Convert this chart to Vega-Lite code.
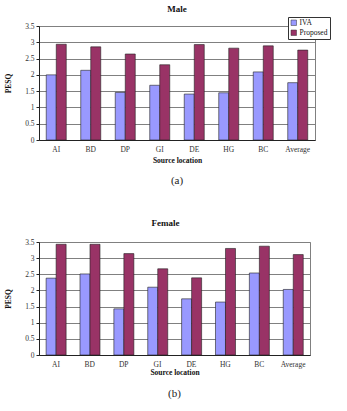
{
  "$schema": "https://vega.github.io/schema/vega-lite/v6.json",
  "background": "white",
  "padding": {"left": 4, "top": 4, "right": 0, "bottom": 0},
  "datasets": {
    "male": [
      {"location": "AI", "method": "IVA", "pesq": 2.0},
      {"location": "AI", "method": "Proposed", "pesq": 2.94},
      {"location": "BD", "method": "IVA", "pesq": 2.14},
      {"location": "BD", "method": "Proposed", "pesq": 2.86},
      {"location": "DP", "method": "IVA", "pesq": 1.46},
      {"location": "DP", "method": "Proposed", "pesq": 2.64},
      {"location": "GI", "method": "IVA", "pesq": 1.68},
      {"location": "GI", "method": "Proposed", "pesq": 2.31},
      {"location": "DE", "method": "IVA", "pesq": 1.41},
      {"location": "DE", "method": "Proposed", "pesq": 2.93},
      {"location": "HG", "method": "IVA", "pesq": 1.45},
      {"location": "HG", "method": "Proposed", "pesq": 2.82},
      {"location": "BC", "method": "IVA", "pesq": 2.09},
      {"location": "BC", "method": "Proposed", "pesq": 2.89},
      {"location": "Average", "method": "IVA", "pesq": 1.76},
      {"location": "Average", "method": "Proposed", "pesq": 2.76}
    ],
    "female": [
      {"location": "AI", "method": "IVA", "pesq": 2.38},
      {"location": "AI", "method": "Proposed", "pesq": 3.43},
      {"location": "BD", "method": "IVA", "pesq": 2.51},
      {"location": "BD", "method": "Proposed", "pesq": 3.43},
      {"location": "DP", "method": "IVA", "pesq": 1.43},
      {"location": "DP", "method": "Proposed", "pesq": 3.14},
      {"location": "GI", "method": "IVA", "pesq": 2.1},
      {"location": "GI", "method": "Proposed", "pesq": 2.67},
      {"location": "DE", "method": "IVA", "pesq": 1.74},
      {"location": "DE", "method": "Proposed", "pesq": 2.39},
      {"location": "HG", "method": "IVA", "pesq": 1.64},
      {"location": "HG", "method": "Proposed", "pesq": 3.3},
      {"location": "BC", "method": "IVA", "pesq": 2.54},
      {"location": "BC", "method": "Proposed", "pesq": 3.37},
      {"location": "Average", "method": "IVA", "pesq": 2.03},
      {"location": "Average", "method": "Proposed", "pesq": 3.11}
    ]
  },
  "config": {
    "font": "Liberation Serif",
    "view": {"stroke": "#808080", "strokeWidth": 1},
    "axis": {
      "labelFont": "Liberation Serif",
      "labelFontSize": 7.5,
      "labelColor": "#333",
      "titleFont": "Liberation Serif",
      "titleFontSize": 7.5,
      "titleFontWeight": "bold",
      "titleColor": "#111",
      "domainColor": "#222",
      "tickColor": "#222",
      "tickSize": 3
    },
    "title": {"font": "Liberation Serif", "fontSize": 9, "fontWeight": "bold", "color": "#111"},
    "legend": {
      "orient": "none",
      "direction": "vertical",
      "title": null,
      "strokeColor": "#333",
      "fillColor": "white",
      "padding": 2,
      "rowPadding": 1,
      "symbolType": "square",
      "symbolSize": 30,
      "symbolStrokeColor": "#333",
      "symbolStrokeWidth": 0.5,
      "labelFont": "Liberation Serif",
      "labelFontSize": 7.5,
      "labelColor": "#111",
      "labelOffset": 2
    }
  },
  "spacing": 31,
  "vconcat": [
    {
      "spacing": 10,
      "vconcat": [
        {
          "data": {"name": "male"},
          "title": {"text": "Male", "offset": 8},
          "width": 276,
          "height": 114,
          "mark": {"type": "bar", "stroke": "#222", "strokeWidth": 0.6},
          "encoding": {
            "x": {
              "field": "location",
              "type": "nominal",
              "sort": ["AI", "BD", "DP", "GI", "DE", "HG", "BC", "Average"],
              "scale": {"paddingInner": 0.42, "paddingOuter": 0.21},
              "axis": {"title": "Source location", "labelAngle": 0, "ticks": false, "labelPadding": 5, "titlePadding": 4}
            },
            "xOffset": {"field": "method", "sort": ["IVA", "Proposed"], "scale": {"padding": 0}},
            "y": {
              "field": "pesq",
              "type": "quantitative",
              "scale": {"domain": [0, 3.5], "nice": false},
              "axis": {
                "title": "PESQ",
                "values": [0, 0.5, 1, 1.5, 2, 2.5, 3, 3.5],
                "format": "~g",
                "grid": true,
                "gridColor": "#808080",
                "titlePadding": 12
              }
            },
            "color": {
              "field": "method",
              "type": "nominal",
              "scale": {"domain": ["IVA", "Proposed"], "range": ["#9999FF", "#993366"]},
              "legend": {"legendX": 249, "legendY": -9}
            }
          }
        },
        {
          "data": {"values": [{"caption": "(a)"}]},
          "width": 276,
          "height": 12,
          "view": {"stroke": null},
          "mark": {"type": "text", "font": "Liberation Serif", "fontSize": 11, "color": "#222"},
          "encoding": {"text": {"field": "caption", "type": "nominal"}}
        }
      ]
    },
    {
      "spacing": 11,
      "vconcat": [
        {
          "data": {"name": "female"},
          "title": {"text": "Female", "offset": 10, "dx": -9},
          "width": 271,
          "height": 113,
          "mark": {"type": "bar", "stroke": "#222", "strokeWidth": 0.6},
          "encoding": {
            "x": {
              "field": "location",
              "type": "nominal",
              "sort": ["AI", "BD", "DP", "GI", "DE", "HG", "BC", "Average"],
              "scale": {"paddingInner": 0.42, "paddingOuter": 0.21},
              "axis": {"title": "Source location", "labelAngle": 0, "ticks": false, "labelPadding": 5, "titlePadding": 1}
            },
            "xOffset": {"field": "method", "sort": ["IVA", "Proposed"], "scale": {"padding": 0}},
            "y": {
              "field": "pesq",
              "type": "quantitative",
              "scale": {"domain": [0, 3.5], "nice": false},
              "axis": {
                "title": "PESQ",
                "values": [0, 0.5, 1, 1.5, 2, 2.5, 3, 3.5],
                "format": "~g",
                "grid": true,
                "gridColor": "#808080",
                "titlePadding": 12
              }
            },
            "color": {
              "field": "method",
              "type": "nominal",
              "scale": {"domain": ["IVA", "Proposed"], "range": ["#9999FF", "#993366"]},
              "legend": {"legendX": 237, "legendY": -14}
            }
          }
        },
        {
          "data": {"values": [{"caption": "(b)"}]},
          "width": 271,
          "height": 12,
          "view": {"stroke": null},
          "mark": {"type": "text", "font": "Liberation Serif", "fontSize": 11, "color": "#222"},
          "encoding": {"text": {"field": "caption", "type": "nominal"}}
        }
      ]
    }
  ]
}
